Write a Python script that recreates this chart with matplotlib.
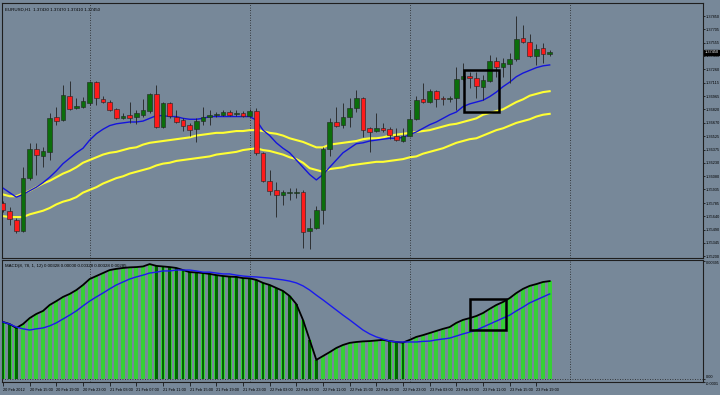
import numpy as np
import matplotlib
matplotlib.use('Agg')
import matplotlib.pyplot as plt
from matplotlib.patches import Rectangle

# EURUSD H1 candles (bar 0 = 20 Feb 11:00)
opens = [1.3579, 1.3570, 1.3560, 1.3548, 1.3606, 1.3638, 1.3630, 1.3635, 1.3674, 1.3670,
         1.3697, 1.3683, 1.3685, 1.3689, 1.3712, 1.3693, 1.3690, 1.3682, 1.3672, 1.3676,
         1.3674, 1.3676, 1.3680, 1.3699, 1.3662, 1.3689, 1.3674, 1.3670, 1.3665, 1.3660,
         1.3669, 1.3674, 1.3676, 1.3676, 1.3679, 1.3677, 1.3678, 1.3675, 1.3680, 1.3634,
         1.3603, 1.3593, 1.3587, 1.3590, 1.3590, 1.3591, 1.3548, 1.3551, 1.3571, 1.3638,
         1.3668, 1.3665, 1.3674, 1.3683, 1.3694, 1.3661, 1.3658, 1.3661, 1.3660, 1.3653,
         1.3647, 1.3653, 1.3671, 1.3693, 1.3690, 1.3702, 1.3694, 1.3693, 1.3694, 1.3715,
         1.3719, 1.3717, 1.3707, 1.3713, 1.3735, 1.3729, 1.3732, 1.3738, 1.3761, 1.3756,
         1.3741, 1.3750, 1.3743]
highs = [1.3581, 1.3574, 1.3562, 1.3618, 1.3645, 1.3645, 1.3640, 1.3678, 1.3685, 1.3709,
         1.3713, 1.3694, 1.3696, 1.3713, 1.3713, 1.3697, 1.3692, 1.3683, 1.3678, 1.3690,
         1.3681, 1.3693, 1.3700, 1.3709, 1.3690, 1.3690, 1.3681, 1.3672, 1.3667, 1.3672,
         1.3685, 1.3681, 1.3679, 1.3681, 1.3681, 1.3681, 1.3680, 1.3682, 1.3683, 1.3635,
         1.3615, 1.3602, 1.3593, 1.3595, 1.3595, 1.3593, 1.3562, 1.3575, 1.3640, 1.3672,
         1.3685, 1.3689, 1.3694, 1.3703, 1.3696, 1.3662, 1.3678, 1.3667, 1.3662, 1.3661,
         1.3661, 1.3681, 1.3697, 1.3711, 1.3704, 1.3703, 1.3697, 1.3697, 1.3729, 1.3733,
         1.3723, 1.3723, 1.3720, 1.3742, 1.3740, 1.3739, 1.3744, 1.3785, 1.3775, 1.3765,
         1.3754, 1.3755, 1.3747]
lows = [1.3569, 1.3554, 1.3545, 1.3547, 1.3604, 1.3610, 1.3618, 1.3626, 1.3665, 1.3669,
        1.3681, 1.3682, 1.3683, 1.3687, 1.3687, 1.3689, 1.3680, 1.3671, 1.3671, 1.3667,
        1.3666, 1.3674, 1.3678, 1.3661, 1.3661, 1.3672, 1.3667, 1.3658, 1.3653, 1.3646,
        1.3665, 1.3665, 1.3674, 1.3675, 1.3675, 1.3675, 1.3674, 1.3674, 1.3632, 1.3602,
        1.3587, 1.3563, 1.3576, 1.3582, 1.3584, 1.3529, 1.3528, 1.3550, 1.3555, 1.3630,
        1.3662, 1.3661, 1.3662, 1.3679, 1.3651, 1.3635, 1.3657, 1.3657, 1.3649, 1.3647,
        1.3646, 1.3652, 1.3670, 1.3689, 1.3689, 1.3685, 1.3687, 1.3690, 1.3681, 1.3714,
        1.3706, 1.3694, 1.3692, 1.3712, 1.3718, 1.3718, 1.3711, 1.3735, 1.3755, 1.3740,
        1.3731, 1.3733, 1.3741]
closes = [1.3571, 1.3561, 1.3548, 1.3606, 1.3638, 1.3632, 1.3636, 1.3672, 1.3669, 1.3698,
          1.3682, 1.3686, 1.3691, 1.3712, 1.3694, 1.3690, 1.3681, 1.3672, 1.3675, 1.3672,
          1.3678, 1.3681, 1.3699, 1.3662, 1.3689, 1.3675, 1.3668, 1.3664, 1.3659, 1.3669,
          1.3674, 1.3676, 1.3677, 1.3679, 1.3676, 1.3678, 1.3675, 1.3680, 1.3634, 1.3603,
          1.3592, 1.3587, 1.3591, 1.3591, 1.3591, 1.3547, 1.3551, 1.3571, 1.3638, 1.3668,
          1.3664, 1.3674, 1.3683, 1.3694, 1.3659, 1.3657, 1.3661, 1.3659, 1.3654, 1.3648,
          1.3653, 1.3671, 1.3692, 1.3690, 1.3702, 1.3693, 1.3693, 1.3694, 1.3715, 1.3719,
          1.3717, 1.3708, 1.3714, 1.3735, 1.3729, 1.3733, 1.3738, 1.3760, 1.3756, 1.3741,
          1.3749, 1.3743, 1.3745]

# moving averages (blue fast one, two yellow bands)
ma_fast = [1.3595, 1.3590, 1.3585, 1.3588, 1.3592, 1.3596, 1.3601, 1.3607, 1.3614, 1.3622,
           1.3628, 1.3634, 1.3639, 1.3648, 1.3655, 1.3660, 1.3664, 1.3666, 1.3667, 1.3668,
           1.3668, 1.3669, 1.3672, 1.3675, 1.3675, 1.3674, 1.3674, 1.3672, 1.3671, 1.3671,
           1.3672, 1.3674, 1.3674, 1.3674, 1.3674, 1.3674, 1.3674, 1.3674, 1.3670, 1.3659,
           1.3653, 1.3645, 1.3639, 1.3634, 1.3626, 1.3618, 1.3610, 1.3604, 1.3610, 1.3618,
           1.3626, 1.3634, 1.3639, 1.3644, 1.3645, 1.3647, 1.3648, 1.3649, 1.3650, 1.3650,
           1.3651, 1.3654, 1.3657, 1.3661, 1.3665, 1.3668, 1.3672, 1.3676, 1.3679, 1.3685,
           1.3688, 1.3690, 1.3692, 1.3696, 1.3701, 1.3707, 1.3712, 1.3718, 1.3722, 1.3725,
           1.3728, 1.3730, 1.3731]
ma_high = [1.3588, 1.3586, 1.3586, 1.3589, 1.3592, 1.3596, 1.3600, 1.3603, 1.3607, 1.3611,
           1.3614, 1.3618, 1.3623, 1.3626, 1.3629, 1.3632, 1.3634, 1.3635, 1.3637, 1.3639,
           1.3640, 1.3643, 1.3645, 1.3646, 1.3647, 1.3648, 1.3649, 1.3650, 1.3651, 1.3653,
           1.3654, 1.3655, 1.3656, 1.3656, 1.3657, 1.3658, 1.3658, 1.3659, 1.3659, 1.3658,
           1.3656, 1.3655, 1.3653, 1.3650, 1.3648, 1.3646, 1.3643, 1.3640, 1.3640, 1.3643,
           1.3644, 1.3645, 1.3646, 1.3647, 1.3649, 1.3650, 1.3650, 1.3651, 1.3653, 1.3654,
           1.3655, 1.3656, 1.3657, 1.3658, 1.3659, 1.3661, 1.3663, 1.3665, 1.3666, 1.3668,
           1.3670, 1.3672, 1.3676, 1.3678, 1.3680, 1.3682, 1.3686, 1.3690, 1.3693, 1.3697,
           1.3699, 1.3701, 1.3702]
ma_low = [1.3564, 1.3563, 1.3563, 1.3563, 1.3566, 1.3568, 1.3570, 1.3573, 1.3577, 1.3580,
          1.3582, 1.3585, 1.3590, 1.3593, 1.3596, 1.3600, 1.3603, 1.3606, 1.3608, 1.3611,
          1.3613, 1.3615, 1.3617, 1.3620, 1.3622, 1.3623, 1.3625, 1.3626, 1.3627, 1.3628,
          1.3629, 1.3630, 1.3632, 1.3633, 1.3634, 1.3635, 1.3637, 1.3638, 1.3639, 1.3637,
          1.3636, 1.3634, 1.3632, 1.3629, 1.3627, 1.3623, 1.3617, 1.3615, 1.3613, 1.3616,
          1.3617, 1.3618, 1.3620, 1.3621, 1.3622, 1.3623, 1.3624, 1.3624, 1.3625, 1.3626,
          1.3627, 1.3629, 1.3630, 1.3633, 1.3635, 1.3637, 1.3639, 1.3642, 1.3645, 1.3647,
          1.3649, 1.3650, 1.3653, 1.3656, 1.3659, 1.3661, 1.3664, 1.3667, 1.3669, 1.3671,
          1.3674, 1.3676, 1.3677]

# MACD panel
macd = [0.00191, 0.00184, 0.00171, 0.00184, 0.00204, 0.00218, 0.00228, 0.00248, 0.00261, 0.00275,
        0.00285, 0.00298, 0.00315, 0.00335, 0.00345, 0.00355, 0.00365, 0.00369, 0.00372, 0.00374,
        0.00375, 0.00377, 0.00385, 0.00379, 0.00377, 0.00375, 0.00372, 0.00365, 0.00358, 0.00357,
        0.00355, 0.00352, 0.00348, 0.00345, 0.00343, 0.00342, 0.00338, 0.00337, 0.00332, 0.00322,
        0.00315, 0.00305, 0.00295, 0.00278, 0.00251, 0.00198, 0.00131, 0.00064, 0.00077, 0.00090,
        0.00104, 0.00114, 0.00121, 0.00124, 0.00126, 0.00127, 0.00129, 0.00131, 0.00127, 0.00124,
        0.00122, 0.00131, 0.00141, 0.00147, 0.00154, 0.00161, 0.00168, 0.00174, 0.00188, 0.00198,
        0.00204, 0.00211, 0.00221, 0.00235, 0.00248, 0.00258, 0.00271, 0.00288, 0.00302, 0.00312,
        0.00318, 0.00325, 0.00328]
signal = [0.00191, 0.00184, 0.00174, 0.00168, 0.00164, 0.00168, 0.00171, 0.00178, 0.00188, 0.00201,
          0.00214, 0.00228, 0.00245, 0.00261, 0.00275, 0.00288, 0.00302, 0.00315, 0.00325, 0.00335,
          0.00342, 0.00348, 0.00355, 0.00358, 0.00362, 0.00362, 0.00365, 0.00365, 0.00365, 0.00362,
          0.00358, 0.00358, 0.00355, 0.00352, 0.00352, 0.00348, 0.00345, 0.00343, 0.00342, 0.00340,
          0.00338, 0.00335, 0.00332, 0.00328, 0.00322, 0.00312, 0.00298, 0.00281, 0.00265, 0.00248,
          0.00231, 0.00214, 0.00198, 0.00181, 0.00164, 0.00151, 0.00141, 0.00134, 0.00127, 0.00124,
          0.00124, 0.00124, 0.00124, 0.00126, 0.00127, 0.00131, 0.00134, 0.00137, 0.00144, 0.00151,
          0.00157, 0.00164, 0.00174, 0.00184, 0.00194, 0.00204, 0.00214, 0.00228, 0.00241, 0.00255,
          0.00265, 0.00275, 0.00285]

# axis labels
time_labels = ['20 Feb 2012', '20 Feb 15:00', '20 Feb 19:00', '20 Feb 23:00', '21 Feb 03:00',
               '21 Feb 07:00', '21 Feb 11:00', '21 Feb 15:00', '21 Feb 19:00', '21 Feb 23:00',
               '22 Feb 03:00', '22 Feb 07:00', '22 Feb 11:00', '22 Feb 15:00', '22 Feb 19:00',
               '22 Feb 23:00', '23 Feb 03:00', '23 Feb 07:00', '23 Feb 11:00', '23 Feb 15:00',
               '23 Feb 19:00']
time_label_bars = [0, 4, 8, 12, 16, 20, 24, 28, 32, 36, 40, 44, 48, 52, 56, 60, 64, 68, 72, 76, 80]
day_start_bars = [13, 37, 61, 85]
price_ticks = [1.37850, 1.37705, 1.37555, 1.37410, 1.37260, 1.37115, 1.36965, 1.36820, 1.36670,
               1.36525, 1.36375, 1.36230, 1.36080, 1.35935, 1.35785, 1.35640, 1.35490, 1.35345,
               1.35200]
macd_ticks = [0.00395, 0.0, -0.0001]
macd_tick_labels = ['0.00395', '0.00', '-0.0001']

# hand drawn boxes (bar range, value range)
box_price = (69.1, 74.4, 1.3679, 1.3725)
box_macd = (70.0, 75.4, 0.00164, 0.00268)

bg = '#778899'
fs = 2.8
small = dict(fontsize=3.2, family='Liberation Sans', color='black')

W, H = 720, 395
fig = plt.figure(figsize=(W / 100, H / 100), dpi=100)
fig.patch.set_facecolor(bg)

ax1 = fig.add_axes([2 / W, 1 - 258 / H, 701 / W, 255 / H])
ax2 = fig.add_axes([2 / W, 1 - 382 / H, 701 / W, 122 / H])

x = np.arange(len(opens))
o = np.array(opens)
c = np.array(closes)

for ax in (ax1, ax2):
    ax.set_facecolor(bg)
    ax.set_xlim(-0.15, 105)
    for s in ax.spines.values():
        s.set_color('#1e1e1e')
        s.set_linewidth(0.8)
    for d in day_start_bars:
        ax.axvline(d, color='#202020', ls=(0, (1, 2)), lw=0.6, zorder=1)

# ---- price panel
ax1.set_ylim(1.35178, 1.37994)
ax1.plot(x, ma_high, color='#ffff33', lw=1.5, zorder=2)
ax1.plot(x, ma_low, color='#ffff33', lw=1.5, zorder=2)
ax1.plot(x, ma_fast, color='#1414dc', lw=1.0, zorder=2)

ax1.vlines(x, lows, highs, color='#222222', lw=0.6, zorder=3)
up = c >= o
cols = np.where(up, '#0b6e0b', '#ff1a1a')
ax1.bar(x, np.abs(c - o), bottom=np.minimum(o, c), width=0.66, color=cols,
        edgecolor='#222222', linewidth=0.4, zorder=4)

ax1.add_patch(Rectangle((box_price[0], box_price[2]), box_price[1] - box_price[0],
                        box_price[3] - box_price[2], fill=False, ec='black', lw=1.8, zorder=5))

ax1.set_xticks([])
ax1.yaxis.tick_right()
ax1.set_yticks(price_ticks)
ax1.set_yticklabels(['%.5f' % p for p in price_ticks])
ax1.tick_params(axis='y', length=1.5, width=0.5, pad=0.6, labelsize=fs, colors='black')
for t in ax1.get_yticklabels():
    t.set_family('Liberation Sans')

# current price marker
ax1.text(1.002, closes[-1], '%.5f' % closes[-1], transform=ax1.get_yaxis_transform(),
         va='center', ha='left', fontsize=fs, family='Liberation Sans', color='white',
         bbox=dict(boxstyle='square,pad=0.12', fc='black', ec='black'), zorder=6)

ax1.text(0.004, 0.982, 'EURUSD,H1  %.5f %.5f %.5f %.5f' % (opens[-1], highs[-1], lows[-1], closes[-1]),
         transform=ax1.transAxes, va='top', ha='left', **small)

# ---- MACD panel
ax2.set_ylim(-0.000101, 0.003987)
m = np.array(macd)
falling = np.r_[True, m[1:] < m[:-1]]
ax2.axhline(0, color='#202020', ls=(0, (1, 2)), lw=0.6, zorder=1)
ax2.bar(x, m, width=0.62, color='#36cf36', lw=0, zorder=2)
ax2.bar(x[falling], m[falling], width=0.36, color='#006400', lw=0, zorder=3)
ax2.plot(x, macd, color='black', lw=1.3, zorder=4)
ax2.plot(x, signal, color='#1a1aee', lw=1.0, zorder=4)

ax2.add_patch(Rectangle((box_macd[0], box_macd[2]), box_macd[1] - box_macd[0],
                        box_macd[3] - box_macd[2], fill=False, ec='black', lw=1.8, zorder=5))

ax2.yaxis.tick_right()
ax2.set_yticks(macd_ticks)
ax2.set_yticklabels(macd_tick_labels)
ax2.tick_params(axis='y', length=1.5, width=0.5, pad=0.6, labelsize=fs, colors='black')
ylabs = ax2.get_yticklabels()
ylabs[0].set_va('top')
ylabs[1].set_va('bottom')
ylabs[2].set_va('top')
ax2.set_xticks(time_label_bars)
ax2.set_xticklabels(time_labels, ha='left')
ax2.tick_params(axis='x', length=3, width=0.5, pad=1.5, labelsize=fs, colors='black')
for t in ax2.get_xticklabels() + ax2.get_yticklabels():
    t.set_family('Liberation Sans')

ax2.text(0.004, 0.965, 'MACD(8, 78, 1, 12) %.5f 0.00000 %.5f %.5f %.5f' % (macd[-1], macd[-1], macd[-1], signal[-1]),
         transform=ax2.transAxes, va='top', ha='left', **small)

fig.savefig('out.png', dpi=100, facecolor=bg)
